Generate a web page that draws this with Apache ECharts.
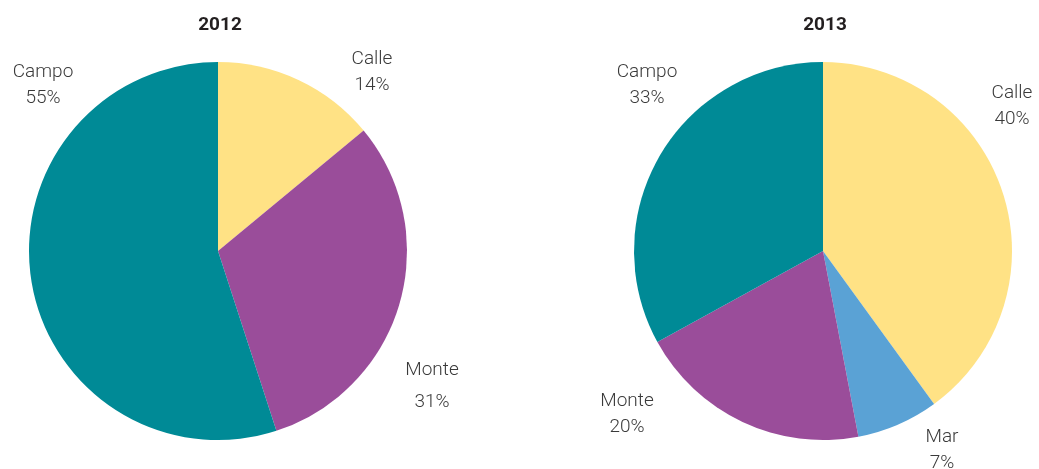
<!DOCTYPE html>
<html>
<head>
<meta charset="utf-8">
<script src="https://cdn.jsdelivr.net/npm/echarts@6/dist/echarts.min.js"></script>
<style>
  html, body { margin: 0; padding: 0; background: #fff; }
  #chart { width: 1039px; height: 469px; }
</style>
</head>
<body>
<div id="chart"></div>
<script>
// data
var names2012 = ['Calle', 'Monte', 'Campo']
var values2012 = [14, 31, 55]
var names2013 = ['Calle', 'Mar', 'Monte', 'Campo']
var values2013 = [40, 7, 20, 33]

var colorMap = {
  'Calle': '#FFE285',
  'Monte': '#9A4D9A',
  'Campo': '#008A96',
  'Mar': '#5AA2D5'
}

// label anchor points (x, y, lineHeight) for each slice
var labelPos2012 = [[372, 72, 26], [432, 386, 32], [43, 85, 26]]
var labelPos2013 = [[1012, 106, 26], [942, 450, 26], [627, 414, 26], [647, 85, 26]]

var fontFamily = 'Roboto, "DejaVu Sans", sans-serif'

function buildData(names, values) {
  return names.map(function(n, i) {
    return { name: n, value: values[i], itemStyle: { color: colorMap[n] } }
  })
}

function pieSeries(center, names, values, pos) {
  return {
    type: 'pie',
    center: center,
    radius: [0, 189],
    startAngle: 90,
    clockwise: true,
    silent: true,
    animation: false,
    avoidLabelOverlap: false,
    label: {
      show: true,
      position: 'outside',
      formatter: '{b}\n{c}%',
      color: '#3a3a3a',
      fontSize: 19,
      fontWeight: 300,
      fontFamily: fontFamily,
      align: 'center'
    },
    labelLine: { show: false },
    labelLayout: function(params) {
      var p = pos[params.dataIndex]
      return { x: p[0], y: p[1], align: 'center', verticalAlign: 'middle', hideOverlap: false, moveOverlap: null }
    },
    data: buildData(names, values).map(function(d, i) {
      d.label = { lineHeight: pos[i][2] }
      return d
    })
  }
}

var chart = echarts.init(document.getElementById('chart'))
chart.setOption({
  backgroundColor: '#fff',
  title: [{
    text: '2012',
    left: 215,
    top: 11,
    textAlign: 'center',
    textStyle: { fontSize: 19, fontWeight: 'bold', color: '#231f20', fontFamily: fontFamily }
  }, {
    text: '2013',
    left: 820,
    top: 11,
    textAlign: 'center',
    textStyle: { fontSize: 19, fontWeight: 'bold', color: '#231f20', fontFamily: fontFamily }
  }],
  series: [
    pieSeries([218, 251], names2012, values2012, labelPos2012),
    pieSeries([823, 251], names2013, values2013, labelPos2013)
  ]
})
</script>
</body>
</html>
